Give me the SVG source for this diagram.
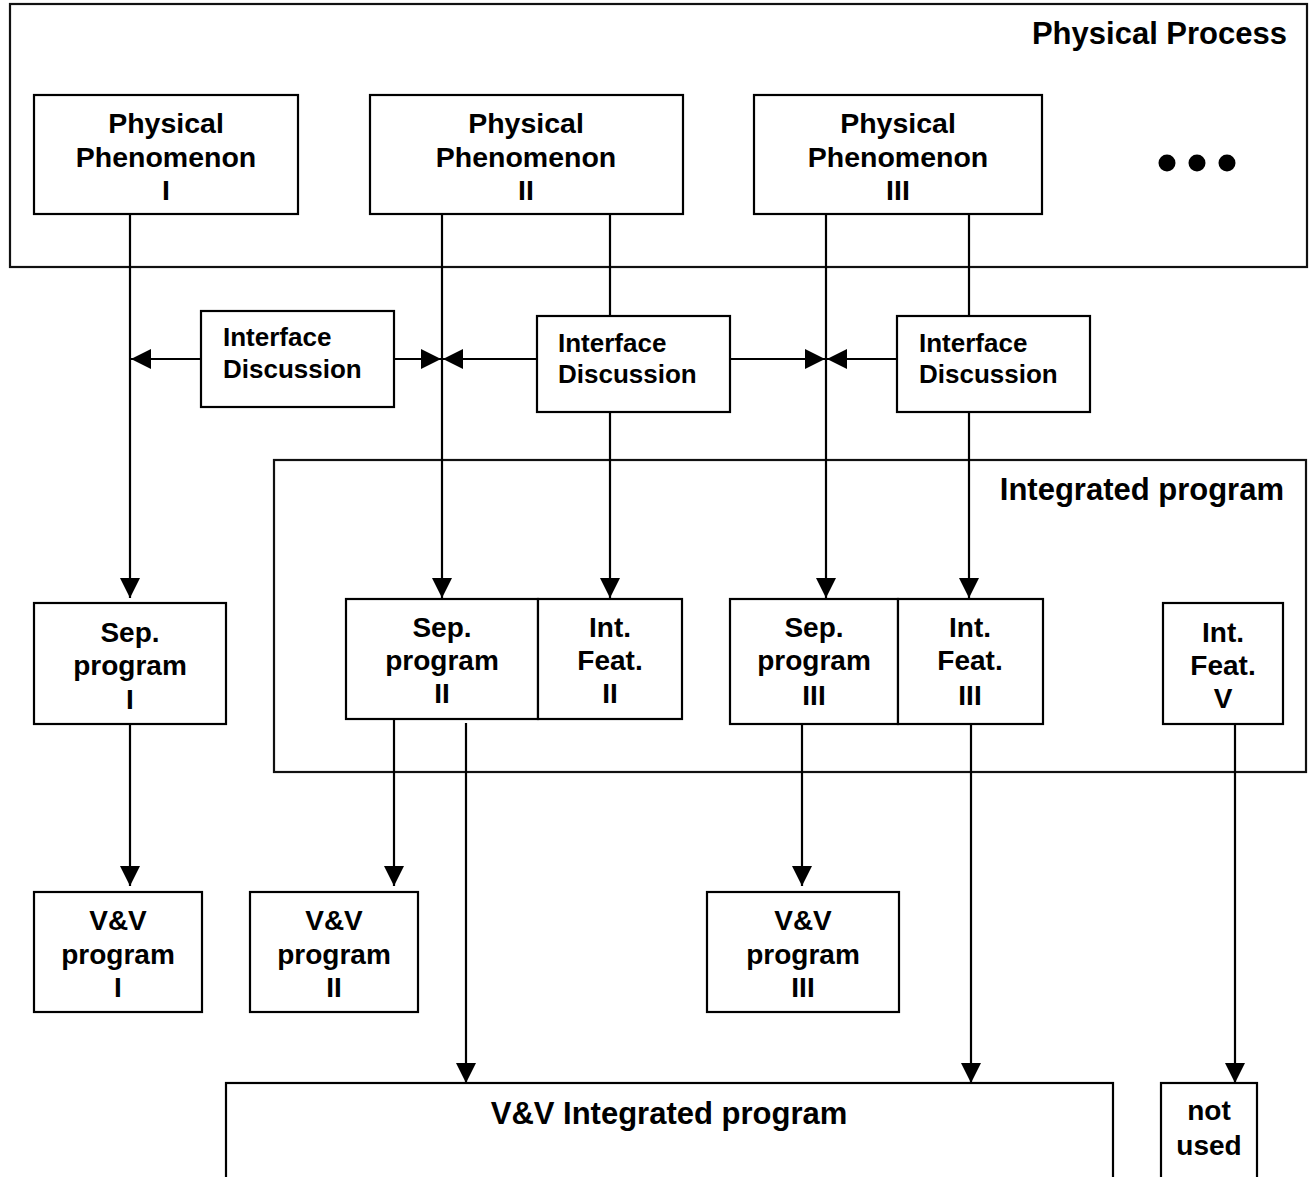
<svg xmlns="http://www.w3.org/2000/svg" width="1309" height="1177" viewBox="0 0 1309 1177">
  <style>
    .box { fill: #fff; stroke: #000; stroke-width: 2.2; }
    .frame { fill: none; stroke: #111; stroke-width: 2.2; }
    .wire { fill: none; stroke: #000; stroke-width: 2.2; }
    text { font-family: "Liberation Sans", Arial, Helvetica, sans-serif; font-weight: bold; fill: #000; }
    .c { text-anchor: middle; font-size: 28px; }
    .ph { text-anchor: middle; font-size: 28.5px; }
    .ifc { font-size: 26px; }
    .title { text-anchor: end; font-size: 31px; }
  </style>
  <defs>
    <marker id="arrow" viewBox="0 0 20 20" refX="20" refY="10" markerWidth="20" markerHeight="20" markerUnits="userSpaceOnUse" orient="auto">
      <path d="M0,0 L20,10 L0,20 z" fill="#000"/>
    </marker>
  </defs>

  <!-- container frames -->
  <g id="physical-process">
    <rect class="frame" x="10" y="4" width="1297" height="263"/>
    <text class="title" x="1287" y="44">Physical Process</text>
  </g>
  <g id="integrated-program">
    <rect class="frame" x="274" y="460" width="1032" height="312"/>
    <text class="title" x="1284" y="500">Integrated program</text>
  </g>

  <!-- connectors -->
  <g id="connectors">
    <!-- from phenomena -->
    <line class="wire" x1="130" y1="214" x2="130" y2="598" marker-end="url(#arrow)"/>
    <line class="wire" x1="442" y1="214" x2="442" y2="598" marker-end="url(#arrow)"/>
    <line class="wire" x1="610" y1="214" x2="610" y2="316"/>
    <line class="wire" x1="610" y1="412" x2="610" y2="598" marker-end="url(#arrow)"/>
    <line class="wire" x1="826" y1="214" x2="826" y2="598" marker-end="url(#arrow)"/>
    <line class="wire" x1="969" y1="214" x2="969" y2="316"/>
    <line class="wire" x1="969" y1="412" x2="969" y2="598" marker-end="url(#arrow)"/>
    <!-- interface discussion links -->
    <line class="wire" x1="201" y1="359" x2="131" y2="359" marker-end="url(#arrow)"/>
    <line class="wire" x1="394" y1="359" x2="441" y2="359" marker-end="url(#arrow)"/>
    <line class="wire" x1="537" y1="359" x2="443" y2="359" marker-end="url(#arrow)"/>
    <line class="wire" x1="730" y1="359" x2="825" y2="359" marker-end="url(#arrow)"/>
    <line class="wire" x1="897" y1="359" x2="827" y2="359" marker-end="url(#arrow)"/>
    <!-- to verification -->
    <line class="wire" x1="130" y1="719" x2="130" y2="886" marker-end="url(#arrow)"/>
    <line class="wire" x1="394" y1="719" x2="394" y2="886" marker-end="url(#arrow)"/>
    <line class="wire" x1="466" y1="723" x2="466" y2="1083" marker-end="url(#arrow)"/>
    <line class="wire" x1="802" y1="719" x2="802" y2="886" marker-end="url(#arrow)"/>
    <line class="wire" x1="971" y1="719" x2="971" y2="1083" marker-end="url(#arrow)"/>
    <line class="wire" x1="1235" y1="724" x2="1235" y2="1083" marker-end="url(#arrow)"/>
  </g>

  <!-- physical phenomena -->
  <g id="phenomenon-1">
    <rect class="box" x="34" y="95" width="264" height="119"/>
    <text class="ph" x="166" y="133">Physical</text>
    <text class="ph" x="166" y="167">Phenomenon</text>
    <text class="ph" x="166" y="200">I</text>
  </g>
  <g id="phenomenon-2">
    <rect class="box" x="370" y="95" width="313" height="119"/>
    <text class="ph" x="526" y="133">Physical</text>
    <text class="ph" x="526" y="167">Phenomenon</text>
    <text class="ph" x="526" y="200">II</text>
  </g>
  <g id="phenomenon-3">
    <rect class="box" x="754" y="95" width="288" height="119"/>
    <text class="ph" x="898" y="133">Physical</text>
    <text class="ph" x="898" y="167">Phenomenon</text>
    <text class="ph" x="898" y="200">III</text>
  </g>
  <g id="more-phenomena">
    <circle cx="1167" cy="163" r="8.5"/>
    <circle cx="1197" cy="163" r="8.5"/>
    <circle cx="1227" cy="163" r="8.5"/>
  </g>

  <!-- interface discussions -->
  <g id="interface-1">
    <rect class="box" x="201" y="311" width="193" height="96"/>
    <text class="ifc" x="223" y="346">Interface</text>
    <text class="ifc" x="223" y="378">Discussion</text>
  </g>
  <g id="interface-2">
    <rect class="box" x="537" y="316" width="193" height="96"/>
    <text class="ifc" x="558" y="352">Interface</text>
    <text class="ifc" x="558" y="383">Discussion</text>
  </g>
  <g id="interface-3">
    <rect class="box" x="897" y="316" width="193" height="96"/>
    <text class="ifc" x="919" y="352">Interface</text>
    <text class="ifc" x="919" y="383">Discussion</text>
  </g>

  <!-- programs -->
  <g id="sep-program-1">
    <rect class="box" x="34" y="603" width="192" height="121"/>
    <text class="c" x="130" y="642">Sep.</text>
    <text class="c" x="130" y="675">program</text>
    <text class="c" x="130" y="709">I</text>
  </g>
  <g id="sep-program-2">
    <rect class="box" x="346" y="599" width="192" height="120"/>
    <text class="c" x="442" y="637">Sep.</text>
    <text class="c" x="442" y="670">program</text>
    <text class="c" x="442" y="703">II</text>
  </g>
  <g id="int-feat-2">
    <rect class="box" x="538" y="599" width="144" height="120"/>
    <text class="c" x="610" y="637">Int.</text>
    <text class="c" x="610" y="670">Feat.</text>
    <text class="c" x="610" y="703">II</text>
  </g>
  <g id="sep-program-3">
    <rect class="box" x="730" y="599" width="168" height="125"/>
    <text class="c" x="814" y="637">Sep.</text>
    <text class="c" x="814" y="670">program</text>
    <text class="c" x="814" y="705">III</text>
  </g>
  <g id="int-feat-3">
    <rect class="box" x="898" y="599" width="145" height="125"/>
    <text class="c" x="970" y="637">Int.</text>
    <text class="c" x="970" y="670">Feat.</text>
    <text class="c" x="970" y="705">III</text>
  </g>
  <g id="int-feat-5">
    <rect class="box" x="1163" y="603" width="120" height="121"/>
    <text class="c" x="1223" y="642">Int.</text>
    <text class="c" x="1223" y="675">Feat.</text>
    <text class="c" x="1223" y="708">V</text>
  </g>

  <!-- verification -->
  <g id="vv-program-1">
    <rect class="box" x="34" y="892" width="168" height="120"/>
    <text class="c" x="118" y="930">V&amp;V</text>
    <text class="c" x="118" y="964">program</text>
    <text class="c" x="118" y="997">I</text>
  </g>
  <g id="vv-program-2">
    <rect class="box" x="250" y="892" width="168" height="120"/>
    <text class="c" x="334" y="930">V&amp;V</text>
    <text class="c" x="334" y="964">program</text>
    <text class="c" x="334" y="997">II</text>
  </g>
  <g id="vv-program-3">
    <rect class="box" x="707" y="892" width="192" height="120"/>
    <text class="c" x="803" y="930">V&amp;V</text>
    <text class="c" x="803" y="964">program</text>
    <text class="c" x="803" y="997">III</text>
  </g>
  <g id="vv-integrated">
    <rect class="box" x="226" y="1083" width="887" height="120"/>
    <text class="c" x="669" y="1124" style="font-size:31px">V&amp;V Integrated program</text>
  </g>
  <g id="not-used">
    <rect class="box" x="1161" y="1083" width="96" height="120"/>
    <text class="c" x="1209" y="1120">not</text>
    <text class="c" x="1209" y="1155">used</text>
  </g>
</svg>
